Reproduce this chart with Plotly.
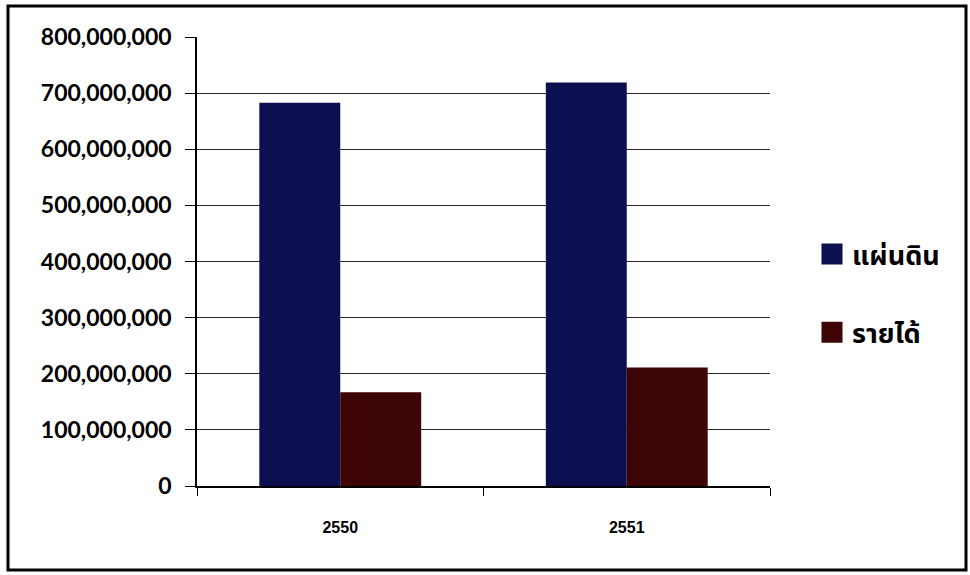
import plotly.graph_objects as go

years = ["2550", "2551"]
land = [683000000, 719000000]
income = [167000000, 211000000]
series_names = ["แผ่นดิน", "รายได้"]
colors = ["#0c0f4f", "#3d0505"]
y_ticks = [0, 100000000, 200000000, 300000000, 400000000, 500000000, 600000000, 700000000, 800000000]

fig = go.Figure()
for vals, name, col in zip([land, income], series_names, colors):
    fig.add_trace(go.Bar(x=years, y=vals, name=name, marker=dict(color=col, line=dict(width=0)),
                         showlegend=False))
# legend entries (larger squares)
for name, col in zip(series_names, colors):
    fig.add_trace(go.Scatter(x=[None], y=[None], mode="markers", name=name, legendgroup=name,
                             marker=dict(symbol="square", size=16, color=col,
                                         line=dict(color=col, width=5))))

L, R, T, B = 197, 200, 37, 89
W, H = 970, 575
pw, ph = W - L - R, H - T - B

def px(x):
    return (x - L) / pw

def py(y):
    return (H - B - y) / ph

fig.update_layout(
    width=W, height=H,
    margin=dict(l=L, r=R, t=T, b=B),
    paper_bgcolor="white", plot_bgcolor="white",
    barmode="group", bargap=0.435, bargroupgap=0,
    font=dict(family="Lato, Noto Sans Thai, sans-serif", color="black"),
    legend=dict(x=px(812), y=py(230), xanchor="left", yanchor="top",
                font=dict(size=27, family="Noto Sans Thai, Noto Sans, sans-serif", color="black",
                          weight="bold"),
                tracegroupgap=40, itemwidth=30, bgcolor="rgba(0,0,0,0)", traceorder="grouped"),
    xaxis=dict(type="category", showline=True, linecolor="black", linewidth=1.5,
               ticks="outside", tickson="boundaries", ticklen=8, tickcolor="black",
               tickfont=dict(family="Liberation Sans, Arial", size=16, color="black", weight="bold"),
               ticklabelstandoff=26, showgrid=False),
    yaxis=dict(range=[0, 800000000], tickvals=y_ticks, tickformat=",d",
               showline=True, linecolor="black", linewidth=1.5,
               ticks="outside", ticklen=10, tickcolor="black",
               tickfont=dict(family="Lato, sans-serif", size=23, color="black", weight="bold"),
               ticklabelstandoff=9,
               showgrid=True, gridcolor="#2a2a20", gridwidth=1, zeroline=False),
    shapes=[dict(type="rect", xref="paper", yref="paper",
                 x0=px(8), x1=px(966), y0=py(570), y1=py(6),
                 line=dict(color="black", width=3), layer="below")],
)

fig.write_html("out.html", post_script="document.body.style.margin='0px';",
               config={"displayModeBar": False})
